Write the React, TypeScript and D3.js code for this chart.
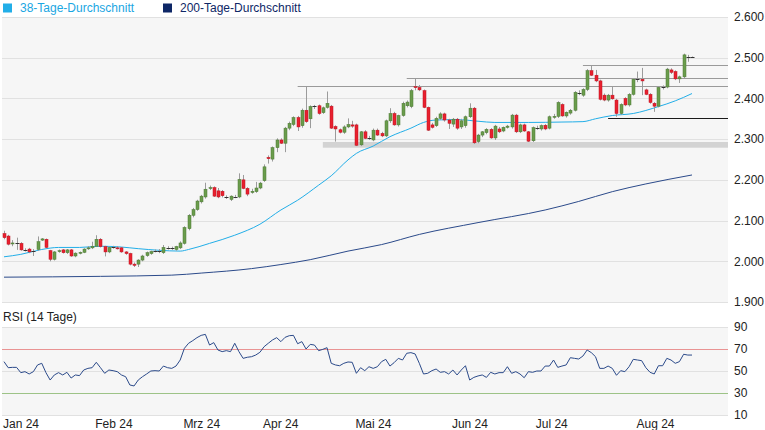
import React from "react";
import * as d3 from "d3";

// ---------- DATA ----------
// OHLC per trading day (Jan 2024 – Aug 2024)
const candles: [number, number, number, number][] = [
  [2068, 2075, 2054, 2058], [2062, 2065, 2039, 2042], [2043, 2052, 2037, 2045], [2046, 2058, 2028, 2045],
  [2044, 2047, 2026, 2028], [2028, 2032, 2024, 2027], [2030, 2033, 2020, 2023], [2026, 2030, 2013, 2025],
  [2029, 2061, 2026, 2048], [2052, 2057, 2050, 2055], [2054, 2056, 2032, 2034], [2026, 2028, 2000, 2005],
  [2005, 2025, 2002, 2023], [2024, 2029, 2021, 2026], [2028, 2030, 2019, 2021], [2021, 2030, 2018, 2028],
  [2028, 2030, 2011, 2013], [2013, 2022, 2010, 2020], [2020, 2024, 2017, 2022], [2022, 2032, 2020, 2030],
  [2031, 2037, 2028, 2033], [2033, 2048, 2030, 2037], [2037, 2064, 2035, 2054], [2054, 2057, 2034, 2036],
  [2036, 2038, 2012, 2023], [2023, 2036, 2020, 2034], [2034, 2038, 2031, 2034], [2033, 2037, 2029, 2031],
  [2033, 2035, 2021, 2023], [2023, 2025, 2016, 2019], [2019, 2021, 1990, 1993], [1993, 1997, 1986, 1990],
  [1993, 2005, 1986, 2003], [2003, 2016, 2000, 2013], [2014, 2024, 2011, 2021], [2019, 2026, 2016, 2024],
  [2025, 2029, 2022, 2026], [2026, 2030, 2020, 2025], [2021, 2040, 2018, 2034], [2033, 2037, 2029, 2032],
  [2032, 2036, 2028, 2033], [2029, 2038, 2026, 2036], [2033, 2049, 2030, 2045], [2044, 2086, 2041, 2083],
  [2080, 2116, 2076, 2113], [2113, 2131, 2108, 2127], [2127, 2151, 2124, 2148], [2146, 2163, 2142, 2160],
  [2158, 2193, 2154, 2177], [2179, 2186, 2175, 2181], [2181, 2184, 2158, 2160], [2173, 2180, 2155, 2158],
  [2172, 2175, 2157, 2161], [2159, 2162, 2153, 2158], [2152, 2162, 2148, 2160], [2159, 2163, 2155, 2158],
  [2158, 2216, 2155, 2201], [2200, 2212, 2177, 2179], [2179, 2182, 2160, 2165], [2169, 2178, 2166, 2172],
  [2171, 2195, 2168, 2180], [2180, 2195, 2177, 2192], [2198, 2238, 2195, 2232], [2255, 2260, 2240, 2252],
  [2251, 2282, 2245, 2279], [2279, 2302, 2268, 2298], [2298, 2302, 2288, 2290], [2290, 2330, 2268, 2327],
  [2327, 2343, 2322, 2339], [2336, 2356, 2332, 2353], [2353, 2357, 2320, 2330], [2333, 2375, 2328, 2371],
  [2371, 2430, 2340, 2343], [2350, 2383, 2327, 2380], [2380, 2384, 2374, 2381], [2382, 2385, 2360, 2363],
  [2365, 2380, 2362, 2377], [2378, 2417, 2375, 2388], [2381, 2384, 2325, 2327], [2331, 2334, 2294, 2325],
  [2323, 2326, 2314, 2317], [2317, 2334, 2313, 2330], [2330, 2351, 2327, 2336], [2335, 2345, 2328, 2332],
  [2335, 2338, 2283, 2285], [2286, 2320, 2283, 2318], [2318, 2322, 2300, 2302], [2303, 2308, 2298, 2302],
  [2298, 2326, 2295, 2322], [2322, 2326, 2308, 2310], [2314, 2318, 2305, 2308], [2308, 2348, 2305, 2345],
  [2345, 2376, 2340, 2363], [2363, 2367, 2333, 2335], [2335, 2360, 2331, 2358], [2358, 2392, 2355, 2388],
  [2382, 2395, 2378, 2391], [2380, 2423, 2376, 2419], [2429, 2448, 2420, 2427], [2427, 2433, 2418, 2421],
  [2419, 2422, 2376, 2378], [2378, 2380, 2320, 2322], [2335, 2340, 2326, 2329], [2333, 2355, 2330, 2351],
  [2351, 2366, 2347, 2362], [2362, 2365, 2343, 2347], [2347, 2350, 2325, 2339], [2337, 2352, 2330, 2349],
  [2349, 2352, 2323, 2327], [2330, 2350, 2325, 2345], [2333, 2358, 2328, 2355], [2355, 2388, 2352, 2376],
  [2376, 2379, 2288, 2291], [2294, 2313, 2290, 2310], [2310, 2320, 2305, 2318], [2316, 2327, 2312, 2324],
  [2324, 2327, 2301, 2303], [2303, 2335, 2298, 2332], [2325, 2330, 2315, 2318], [2320, 2331, 2317, 2329],
  [2329, 2335, 2326, 2332], [2330, 2362, 2326, 2359], [2359, 2362, 2315, 2318], [2318, 2338, 2315, 2335],
  [2335, 2338, 2318, 2320], [2318, 2320, 2293, 2295], [2296, 2331, 2293, 2328], [2328, 2333, 2323, 2327],
  [2325, 2336, 2321, 2333], [2334, 2337, 2322, 2325], [2327, 2358, 2324, 2355], [2354, 2362, 2350, 2356],
  [2356, 2393, 2352, 2390], [2385, 2388, 2355, 2357], [2357, 2368, 2353, 2366], [2364, 2374, 2360, 2371],
  [2371, 2418, 2368, 2415], [2413, 2420, 2408, 2412], [2408, 2425, 2404, 2422], [2422, 2472, 2418, 2468],
  [2468, 2482, 2455, 2457], [2457, 2470, 2440, 2443], [2443, 2446, 2395, 2398], [2408, 2412, 2393, 2396],
  [2396, 2411, 2392, 2408], [2408, 2429, 2397, 2399], [2396, 2399, 2355, 2363], [2363, 2388, 2360, 2385],
  [2400, 2403, 2381, 2384], [2384, 2413, 2380, 2410], [2410, 2450, 2407, 2447], [2446, 2466, 2440, 2447],
  [2447, 2475, 2408, 2443], [2421, 2424, 2408, 2410], [2410, 2413, 2387, 2390], [2388, 2391, 2367, 2381],
  [2381, 2430, 2378, 2427], [2427, 2432, 2422, 2428], [2428, 2475, 2425, 2472], [2470, 2474, 2460, 2464],
  [2466, 2469, 2445, 2448], [2448, 2456, 2438, 2453], [2453, 2510, 2450, 2507], [2503, 2507, 2490, 2502],
  [2502, 2503, 2501, 2502],
];

// RSI (14 Tage), one value per trading day
const rsiValues: number[] = [
  58.5, 53.0, 53.3, 53.3, 48.5, 49.4, 47.3, 49.4, 55.5, 57.0,
  48.5, 41.8, 46.4, 48.5, 46.4, 48.8, 43.6, 46.4, 45.8, 50.9,
  52.4, 53.0, 57.9, 53.0, 47.9, 50.9, 50.3, 49.4, 46.4, 44.8,
  37.3, 36.4, 41.8, 44.8, 47.3, 50.0, 50.3, 50.0, 54.5, 53.0,
  52.4, 54.5, 60.0, 70.6, 75.2, 77.6, 80.3, 82.4, 83.3, 73.6,
  75.8, 69.1, 67.6, 68.5, 67.6, 75.2, 67.6, 61.5, 62.5, 63.0,
  64.5, 67.0, 72.1, 75.2, 78.2, 80.3, 76.7, 80.6, 82.1, 82.4,
  74.8, 76.7, 70.0, 74.2, 73.6, 68.5, 69.7, 71.2, 57.0, 55.5,
  54.8, 57.0, 58.2, 57.9, 47.9, 53.0, 50.3, 53.9, 52.4, 53.9,
  58.5, 60.6, 54.5, 57.6, 61.5, 60.0, 66.1, 66.7, 65.5, 57.0,
  47.3, 47.9, 50.3, 51.8, 48.8, 49.4, 47.3, 50.9, 46.4, 50.9,
  54.8, 41.8, 44.2, 45.5, 46.4, 44.2, 48.8, 47.3, 48.5, 48.5,
  53.9, 47.9, 49.4, 47.3, 43.9, 49.4, 48.8, 50.0, 50.0, 54.5,
  54.5, 60.0, 53.3, 54.5, 55.5, 62.1, 61.5, 60.9, 63.6, 69.1,
  66.7, 63.0, 52.4, 52.4, 54.5, 52.4, 46.1, 50.3, 49.4, 53.9,
  60.6, 60.0, 59.4, 53.0, 48.8, 47.3, 54.8, 54.8, 61.5, 60.0,
  57.0, 58.5, 65.2, 64.5, 64.5,
];

// Moving averages read at sample days: [day index, value]
const ma38Points: [number, number][] = [
  [0, 2011], [4, 2017], [9, 2029], [13, 2034], [18, 2034], [23, 2037], [28, 2035], [32, 2031],
  [37, 2027], [42, 2025], [44, 2029], [49, 2044], [55, 2064], [61, 2091], [66, 2126], [70, 2150],
  [75, 2187], [78, 2210], [82, 2249], [84, 2265], [88, 2283], [92, 2306], [97, 2327], [100, 2341],
  [103, 2347], [108, 2348], [113, 2344], [117, 2341], [125, 2341], [133, 2342], [138, 2343],
  [141, 2350], [145, 2358], [150, 2363], [156, 2380], [160, 2394], [164, 2412],
];
const ma200Points: [number, number][] = [
  [0, 1961], [23, 1963], [40, 1966], [47, 1971], [59, 1982], [66, 1992], [73, 2004], [82, 2025],
  [90, 2041], [99, 2066], [113, 2095], [129, 2126], [137, 2147], [145, 2171], [153, 2190], [164, 2212],
];

const priceTicks = [2600, 2500, 2400, 2300, 2200, 2100, 2000, 1900];
const rsiTicks = [90, 70, 50, 30, 10];
const monthLabels = ["Jan 24", "Feb 24", "Mrz 24", "Apr 24", "Mai 24", "Jun 24", "Jul 24", "Aug 24"];
const monthStartIdx = [0, 22, 43, 62, 84, 107, 127, 151];

// Resistance lines (gray) and support line (black): [start day index, level]
const resistanceLines: [number, number][] = [[70, 2430], [96, 2449], [138, 2482]];
const supportLines: [number, number][] = [[144, 2351]];
// Support zone: [start day index, upper, lower]
const supportZones: [number, number, number][] = [[76, 2293, 2279]];

const legendItems = ["38-Tage-Durchschnitt", "200-Tage-Durchschnitt"];

// ---------- CHART ----------
const W = 765;
const H = 430;
const FONT = "Arial, 'Liberation Sans', sans-serif";

const de = d3.formatLocale({ decimal: ",", thousands: ".", grouping: [3], currency: ["", "€"] });
const fmtPrice = de.format(",.0f");

export default function App() {
  const left = 2;
  const right = 728;
  const x = d3.scaleLinear().domain([0, candles.length - 1]).range([4, 692]);
  const y = d3.scaleLinear().domain([1900, 2600]).range([302, 17]);
  const yr = d3.scaleLinear().domain([10, 90]).range([415, 327]);

  const crisp = (v: number) => Math.round(v) + 0.5;

  const maLine = d3
    .line<[number, number]>()
    .x((d) => x(d[0]))
    .y((d) => y(d[1]))
    .curve(d3.curveMonotoneX);

  const rsiLine = d3
    .line<number>()
    .x((_, i) => x(i))
    .y((d) => yr(d));

  const green = "#6a9c4c";
  const greenStroke = "#4b7833";
  const red = "#e8202f";
  const redStroke = "#c0101f";
  const lightBlue = "#22aee8";
  const navy = "#0e2766";

  return (
    <svg
      width={W}
      height={H}
      style={{ position: "absolute", left: 0, top: 0, background: "#fff" }}
      fontFamily={FONT}
    >
      {/* legend */}
      <rect x={3} y={3.5} width={9} height={9} fill={lightBlue} />
      <text x={20} y={12} fontSize={12} fill="#1aa6e2">{legendItems[0]}</text>
      <rect x={163} y={3.5} width={9} height={9} fill={navy} />
      <text x={180} y={12} fontSize={12} fill={navy}>{legendItems[1]}</text>

      {/* main panel */}
      <rect x={left} y={y(2600)} width={right - left} height={y(1900) - y(2600)} fill="#f6f6f6" />
      {priceTicks.map((t) => (
        <g key={t}>
          <line x1={left} x2={right} y1={crisp(y(t))} y2={crisp(y(t))} stroke="#e1e1e1" strokeWidth={1} />
          <text x={734} y={y(t)} dy="0.36em" fontSize={12} fill="#222">{fmtPrice(t)}</text>
        </g>
      ))}

      {/* support zone */}
      {supportZones.map(([i, top, bottom], k) => (
        <rect key={k} x={x(i)} y={y(top)} width={right - x(i)} height={y(bottom) - y(top)} fill="#d3d3d3" />
      ))}

      {/* resistance lines */}
      {resistanceLines.map(([i, lvl], k) => (
        <line key={k} x1={x(i)} x2={right} y1={crisp(y(lvl))} y2={crisp(y(lvl))} stroke="#9a9a9a" strokeWidth={1} />
      ))}
      {supportLines.map(([i, lvl], k) => (
        <line key={k} x1={x(i)} x2={right} y1={crisp(y(lvl))} y2={crisp(y(lvl))} stroke="#1a1a1a" strokeWidth={1} />
      ))}

      {/* moving averages */}
      <path d={maLine(ma200Points) || ""} fill="none" stroke="#2b4a8a" strokeWidth={1} />
      <path d={maLine(ma38Points) || ""} fill="none" stroke={lightBlue} strokeWidth={1} />

      {/* candles */}
      {candles.map(([o, h, l, c], i) => {
        const cx = x(i);
        const wx = Math.round(cx) + 0.5;
        const up = c >= o;
        const doji = Math.abs(c - o) < 2;
        const top = y(Math.max(o, c));
        const bot = y(Math.min(o, c));
        return (
          <g key={i}>
            <line x1={wx} x2={wx} y1={y(h)} y2={y(l)} stroke="#9b9b9b" strokeWidth={1} />
            {doji ? (
              <line x1={wx - 2} x2={wx + 2} y1={crisp((top + bot) / 2)} y2={crisp((top + bot) / 2)} stroke="#333" strokeWidth={1} />
            ) : (
              <rect
                x={Math.round(cx) - 1}
                y={top}
                width={3}
                height={Math.max(1, bot - top)}
                fill={up ? green : red}
                stroke={up ? greenStroke : redStroke}
                strokeWidth={0.5}
              />
            )}
          </g>
        );
      })}

      {/* RSI panel */}
      <text x={3} y={321} fontSize={12} fill="#222">RSI (14 Tage)</text>
      <rect x={left} y={yr(90)} width={right - left} height={yr(10) - yr(90)} fill="#f6f6f6" />
      {rsiTicks.map((t) => (
        <g key={t}>
          <line
            x1={left}
            x2={right}
            y1={crisp(yr(t))}
            y2={crisp(yr(t))}
            stroke={t === 70 ? "#e99393" : t === 30 ? "#9dc387" : "#e1e1e1"}
            strokeWidth={1}
          />
          <text x={734} y={yr(t)} dy="0.36em" fontSize={12} fill="#222">{t}</text>
        </g>
      ))}
      <path d={rsiLine(rsiValues) || ""} fill="none" stroke="#2b4a8a" strokeWidth={1} />

      {/* month labels */}
      {monthLabels.map((m, k) => (
        <text key={m} x={x(monthStartIdx[k]) - 1} y={428} fontSize={12} fill="#222">{m}</text>
      ))}
    </svg>
  );
}
